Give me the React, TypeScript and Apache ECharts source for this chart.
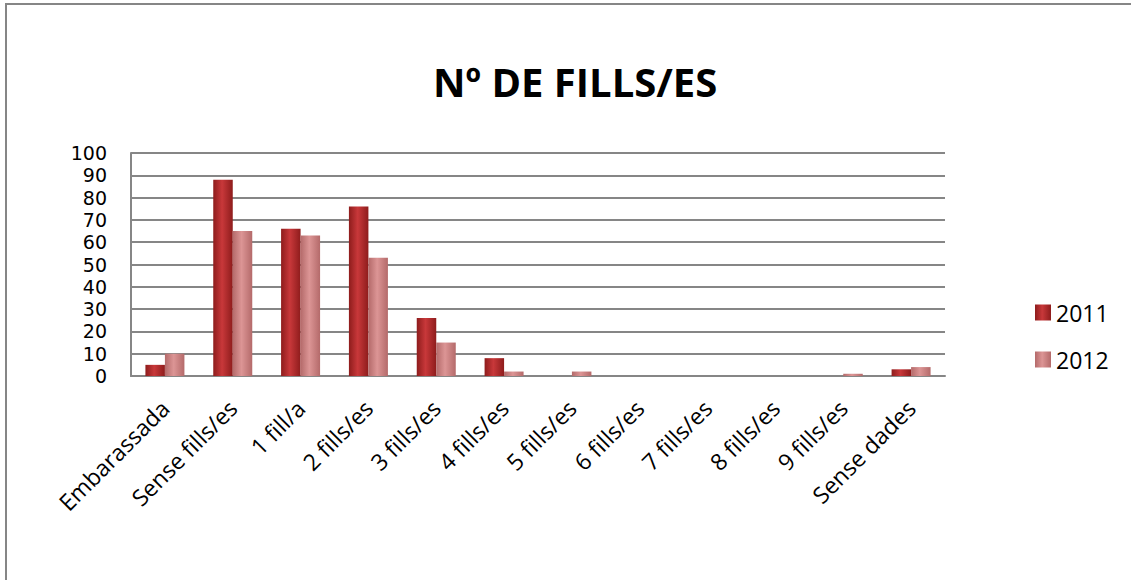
import React, { useEffect, useRef } from "react";
import * as echarts from "echarts";

const categories = [
  "Embarassada",
  "Sense fills/es",
  "1 fill/a",
  "2 fills/es",
  "3 fills/es",
  "4 fills/es",
  "5 fills/es",
  "6 fills/es",
  "7 fills/es",
  "8 fills/es",
  "9 fills/es",
  "Sense dades",
];
const values2011 = [5, 88, 66, 76, 26, 8, 0, 0, 0, 0, 0, 3];
const values2012 = [10, 65, 63, 53, 15, 2, 2, 0, 0, 0, 1, 4];
const yTicks = [0, 10, 20, 30, 40, 50, 60, 70, 80, 90, 100];

const FONT = "'Open Sans', 'Noto Sans', sans-serif";

function hGrad(edge: string, mid: string) {
  return new echarts.graphic.LinearGradient(0, 0, 1, 0, [
    { offset: 0, color: edge },
    { offset: 0.45, color: mid },
    { offset: 1, color: edge },
  ]);
}

export default function App() {
  const ref = useRef<HTMLDivElement>(null);
  useEffect(() => {
    if (!ref.current) return;
    const chart = echarts.init(ref.current, undefined, { renderer: "svg" });
    chart.setOption({
      animation: false,
      backgroundColor: "#ffffff",
      title: {
        text: "Nº DE FILLS/ES",
        left: 428,
        top: 56,
        textStyle: { fontFamily: FONT, fontSize: 40, fontWeight: "bold", color: "#000" },
      },
      legend: {
        orient: "vertical",
        left: 1030,
        top: 296,
        itemWidth: 16,
        itemHeight: 16,
        itemGap: 24,
        icon: "rect",
        textStyle: { fontFamily: FONT, fontSize: 23, color: "#000" },
        data: ["2011", "2012"],
      },
      grid: { left: 131, right: 186, top: 153, bottom: 204 },
      xAxis: {
        type: "category",
        data: categories,
        axisLine: { show: true, lineStyle: { color: "#868686", width: 2 } },
        axisTick: { show: false },
        axisLabel: {
          interval: 0,
          rotate: 45,
          margin: 28,
          fontFamily: FONT,
          fontSize: 23,
          color: "#000",
        },
      },
      yAxis: {
        type: "value",
        min: 0,
        max: 100,
        interval: 10,
        axisLine: { show: true, lineStyle: { color: "#868686", width: 2 } },
        axisTick: { show: false },
        splitLine: { show: true, lineStyle: { color: "#868686", width: 2 } },
        axisLabel: {
          margin: 24,
          fontFamily: "'DejaVu Sans', sans-serif",
          fontSize: 19,
          lineHeight: 19,
          color: "#000",
          formatter: (v: number) => (yTicks.includes(v) ? String(v) : ""),
        },
      },
      series: [
        {
          name: "2011",
          type: "bar",
          data: values2011,
          barWidth: 19.5,
          barGap: "0%",
          itemStyle: { color: hGrad("#8e1c1c", "#c8383a") },
        },
        {
          name: "2012",
          type: "bar",
          data: values2012,
          barWidth: 19.5,
          barGap: "0%",
          itemStyle: { color: hGrad("#b46a6a", "#dc9595") },
        },
      ],
      graphic: [
        { type: "line", shape: { x1: 5, y1: 4, x2: 1131, y2: 4 }, style: { stroke: "#868686", lineWidth: 2 } },
        { type: "line", shape: { x1: 6, y1: 4, x2: 6, y2: 580 }, style: { stroke: "#868686", lineWidth: 2 } },
      ],
    });
    return () => chart.dispose();
  }, []);
  return (
    <div
      ref={ref}
      style={{ position: "fixed", left: 0, top: 0, width: 1131, height: 580 }}
    />
  );
}
